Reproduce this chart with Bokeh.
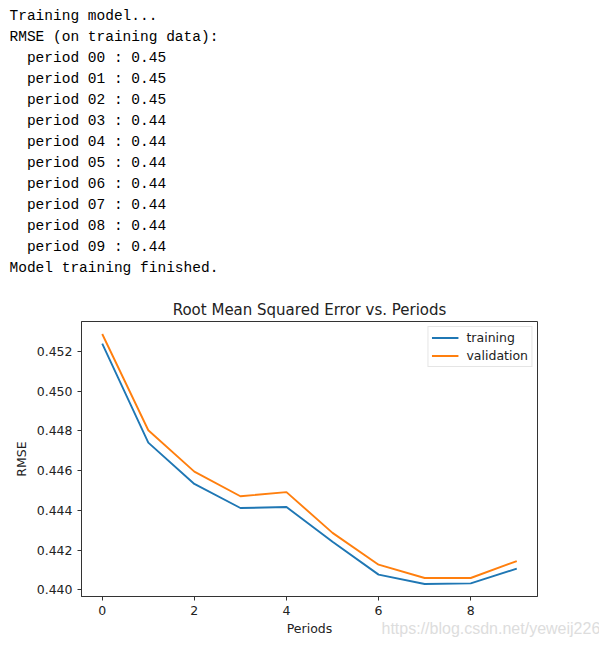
from bokeh.plotting import figure
from bokeh.models import Range1d, Label, FixedTicker, NumeralTickFormatter
from bokeh.embed import file_html
from bokeh.resources import INLINE

# ---- data ----
console_lines = [
    "Training model...",
    "RMSE (on training data):",
    "  period 00 : 0.45",
    "  period 01 : 0.45",
    "  period 02 : 0.45",
    "  period 03 : 0.44",
    "  period 04 : 0.44",
    "  period 05 : 0.44",
    "  period 06 : 0.44",
    "  period 07 : 0.44",
    "  period 08 : 0.44",
    "  period 09 : 0.44",
    "Model training finished.",
]
periods = [0, 1, 2, 3, 4, 5, 6, 7, 8, 9]
training = [0.45239, 0.44741, 0.44533, 0.44412, 0.44417, 0.44242, 0.44077, 0.44030, 0.44033, 0.44107]
validation = [0.45287, 0.44803, 0.44595, 0.44471, 0.44492, 0.44287, 0.44127, 0.44060, 0.44060, 0.44145]
x_ticks = [0, 2, 4, 6, 8]
y_ticks = [0.440, 0.442, 0.444, 0.446, 0.448, 0.450, 0.452]
title_text = "Root Mean Squared Error vs. Periods"
x_label = "Periods"
y_label = "RMSE"
watermark = "https://blog.csdn.net/yeweij226"

X0, X1 = -0.45, 9.45
Y0, Y1 = 0.43967, 0.4535
W, H = 599, 639
ML, MR, MT, MB = 81, 62, 321, 43
FW, FH = W - ML - MR, H - MT - MB

def xd(px):  # canvas pixel -> data x
    return X0 + (px - ML) * (X1 - X0) / FW

def yd(py):  # canvas pixel -> data y
    return Y1 - (py - MT) * (Y1 - Y0) / FH

p = figure(width=W, height=H, x_range=Range1d(X0, X1), y_range=Range1d(Y0, Y1),
           toolbar_location=None, output_backend="svg",
           min_border_left=ML, min_border_right=MR, min_border_top=MT, min_border_bottom=MB)

p.grid.visible = False
p.outline_line_color = "#333333"
p.outline_line_width = 1

for ax in (p.xaxis[0], p.yaxis[0]):
    ax.axis_line_color = "#333333"
    ax.major_tick_line_color = "#333333"
    ax.major_tick_out = 4
    ax.major_tick_in = 0
    ax.minor_tick_line_color = None
    ax.major_label_text_font = "DejaVu Sans"
    ax.major_label_text_font_size = "12.5px"
    ax.major_label_text_color = "#222222"
    ax.axis_label_text_font = "DejaVu Sans"
    ax.axis_label_text_font_size = "12.5px"
    ax.axis_label_text_font_style = "normal"
    ax.axis_label_text_color = "#222222"

p.xaxis.ticker = FixedTicker(ticks=x_ticks)
p.yaxis.ticker = FixedTicker(ticks=y_ticks)
p.yaxis.formatter = NumeralTickFormatter(format="0.000")
p.xaxis.axis_label = x_label
p.yaxis.axis_label = y_label
p.xaxis.major_label_standoff = 5
p.xaxis.axis_label_standoff = 3
p.yaxis.major_label_standoff = 5
p.yaxis.axis_label_standoff = 5

p.line(periods, training, line_color="#1f77b4", line_width=1.9, legend_label="training")
p.line(periods, validation, line_color="#ff7f0e", line_width=1.9, legend_label="validation")

lg = p.legend[0]
lg.location = "top_right"
lg.margin = 5
lg.padding = 3
lg.spacing = 3
lg.glyph_width = 27
lg.glyph_height = 15
lg.label_height = 15
lg.label_standoff = 8
lg.label_text_font = "DejaVu Sans"
lg.label_text_font_size = "12.5px"
lg.label_text_color = "#222222"
lg.border_line_color = "#cccccc"
lg.border_line_width = 1
lg.background_fill_alpha = 0.8

# chart title (label in the unclipped top panel, positioned through the data scales)
p.add_layout(Label(x=xd(309), y=yd(309.5), text=title_text, text_font="DejaVu Sans",
                   text_font_size="15px", text_color="#222222",
                   text_baseline="middle", text_align="center"), "above")

# console output
CHAR_W = 8.7
for i, line in enumerate(console_lines):
    indent = len(line) - len(line.lstrip(" "))
    cx = 9 + indent * CHAR_W
    cy = 15 + 21 * i
    p.add_layout(Label(x=xd(cx), y=yd(cy), text=line.lstrip(" "),
                       text_font="Liberation Mono", text_font_size="14.5px",
                       text_color="#000000", text_baseline="middle", text_align="left"), "above")

p.add_layout(Label(x=xd(381), y=yd(628), text=watermark, text_font="Liberation Sans",
                   text_font_size="16px", text_color="#dddddd",
                   text_baseline="middle", text_align="left"), "above")

open("out.html", "w").write(file_html(p, INLINE))
